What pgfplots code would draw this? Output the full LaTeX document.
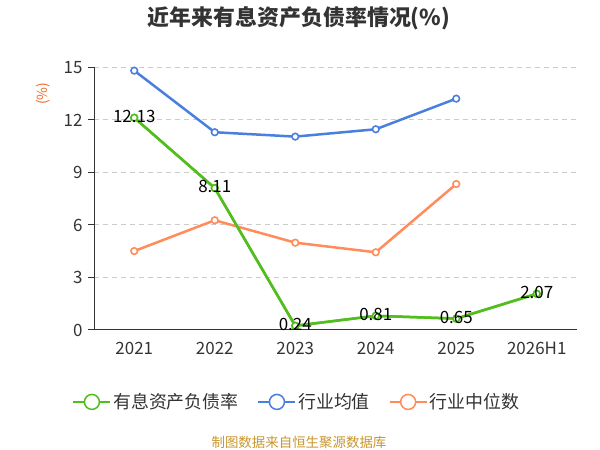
\documentclass[border=0pt]{standalone}
\usepackage{fontspec}
\setmainfont{Noto Sans CJK SC}
\usepackage{pgfplots}
\pgfplotsset{compat=1.18}
\definecolor{cg}{HTML}{52BE1E}
\definecolor{cb}{HTML}{4A7FE0}
\definecolor{co}{HTML}{FF8C5A}
\definecolor{cy}{HTML}{F26A2A}
\definecolor{txt}{HTML}{333333}
\definecolor{foot}{HTML}{C8962E}
\begin{document}
\begin{tikzpicture}[x=1bp,y=1bp]
\path[use as bounding box] (0,0) rectangle (600,450);
\node[font=\bfseries\fontsize{22}{26}\selectfont, text=txt] at (299,432) {近年来有息资产负债率情况(\%)};
\node[font=\fontsize{13.5}{16}\selectfont, text=foot] at (299,8) {制图数据来自恒生聚源数据库};
\begin{axis}[
  at={(94bp,120bp)}, anchor=south west,
  width=483bp, height=262.5bp, scale only axis,
  xmin=-0.5, xmax=5.5, ymin=0, ymax=15,
  axis x line*=bottom, axis y line*=left,
  axis line style={txt, line width=1bp},
  xtick={0,1,2,3,4,5},
  xticklabels={2021,2022,2023,2024,2025,2026H1},
  major x tick style={draw=none},
  extra x ticks={-0.5,0.5,1.5,2.5,3.5,4.5,5.5},
  extra x tick labels={},
  extra x tick style={tick style={txt, line width=1bp}, major tick length=7bp, tick align=outside, grid=none},
  ytick={0,3,6,9,12,15},
  ytick style={txt, line width=1bp},
  major tick length=6bp, tick align=outside,
  ymajorgrids, grid style={dash pattern=on 5bp off 4bp, gray!40, line width=1bp},
  tick label style={font=\fontsize{17}{20}\selectfont, text=txt},
  /pgf/number format/assume math mode=true,
  xticklabel style={yshift=-3bp},
  yticklabel style={xshift=-2bp},
  ylabel={(\%)}, ylabel style={font=\fontsize{14}{16}\selectfont, text=cy, at={(axis description cs:-0.105,0.9)}, anchor=center},
  legend style={at={(0.42,-0.274)}, anchor=center, draw=none, legend columns=3, font=\fontsize{18}{21}\selectfont, text=txt,
    /tikz/every even column/.append style={column sep=17bp}},
  legend image code/.code={\draw[#1, line width=1.5bp] (0bp,0bp) -- (37bp,0bp); \draw[#1, line width=1.5bp, fill=white] (18.5bp,0bp) circle (7.5bp);},
  clip=false,
]
\addplot[cg, line width=2.5bp, mark=*, mark size=3.3bp, mark options={fill=white, line width=1.6bp}]
  coordinates {(0,12.13) (1,8.11) (2,0.24) (3,0.81) (4,0.65) (5,2.07)};
\addlegendentry{有息资产负债率}
\addplot[cb, line width=2.5bp, mark=*, mark size=3.3bp, mark options={fill=white, line width=1.6bp}] coordinates {(0,14.82) (1,11.30) (2,11.05) (3,11.47) (4,13.22)};
\addlegendentry{行业均值}
\addplot[co, line width=2.5bp, mark=*, mark size=3.3bp, mark options={fill=white, line width=1.6bp}] coordinates {(0,4.51) (1,6.27) (2,4.99) (3,4.44) (4,8.34)};
\addlegendentry{行业中位数}
\addplot[forget plot, cg, line width=2.5bp, mark=*, mark size=3.3bp, mark options={fill=white, line width=1.6bp},
  nodes near coords, point meta=explicit symbolic,
  every node near coord/.style={anchor=center, yshift=1.5bp, font=\fontsize{17}{20}\selectfont, text=black}]
  coordinates {(0,12.13)[12.13] (1,8.11)[8.11] (2,0.24)[0.24] (3,0.81)[0.81] (4,0.65)[0.65] (5,2.07)[2.07]};
\end{axis}
\end{tikzpicture}
\end{document}
